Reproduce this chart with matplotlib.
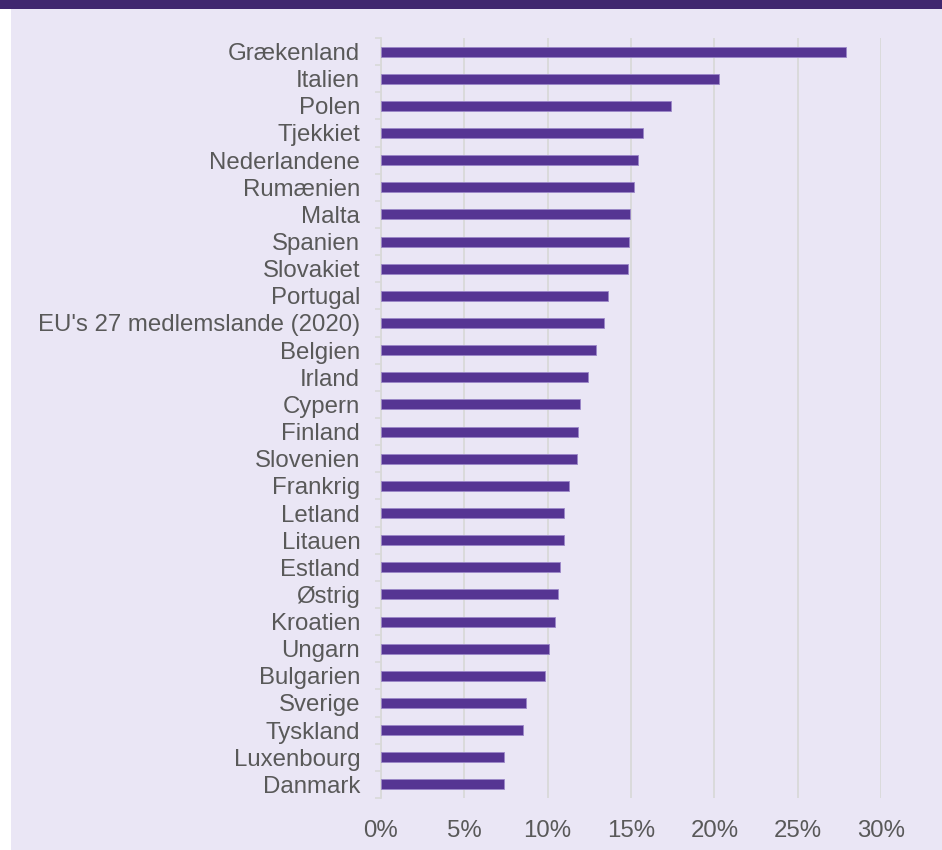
import matplotlib.pyplot as plt
from matplotlib.patches import Rectangle
from matplotlib.ticker import FixedLocator, PercentFormatter

plt.rcParams["font.family"] = ["Liberation Sans", "DejaVu Sans"]

countries = [
    "Grækenland", "Italien", "Polen", "Tjekkiet", "Nederlandene", "Rumænien",
    "Malta", "Spanien", "Slovakiet", "Portugal", "EU's 27 medlemslande (2020)",
    "Belgien", "Irland", "Cypern", "Finland", "Slovenien", "Frankrig",
    "Letland", "Litauen", "Estland", "Østrig", "Kroatien", "Ungarn",
    "Bulgarien", "Sverige", "Tyskland", "Luxenbourg", "Danmark",
]
shares = [
    27.9, 20.3, 17.4, 15.7, 15.4, 15.2,
    14.95, 14.9, 14.8, 13.6, 13.4,
    12.9, 12.4, 11.95, 11.8, 11.75, 11.3,
    10.95, 10.95, 10.75, 10.6, 10.45, 10.05,
    9.85, 8.7, 8.5, 7.4, 7.35,
]
xticks = [0, 5, 10, 15, 20, 25, 30]

BG = "#EAE6F5"
BAR = "#563593"
GRID = "#D9D9D9"
TXT = "#595959"

fig = plt.figure(figsize=(9.42, 8.5), dpi=100)
fig.patch.set_facecolor("white")
# lavender panel + dark band on top
fig.add_artist(Rectangle((11 / 942, 0), 1, 1, transform=fig.transFigure,
                         facecolor=BG, edgecolor="none", zorder=-2))
fig.add_artist(Rectangle((0, 1 - 9 / 850), 1, 9 / 850, transform=fig.transFigure,
                         facecolor="#40276F", edgecolor="none", zorder=-1))

ax = fig.add_axes([381 / 942, 1 - 798 / 850, 500 / 942, 760 / 850])
ax.set_facecolor("none")

y = list(range(len(countries)))
ax.barh(y, shares, height=0.37, color=BAR, edgecolor="#9B87C8",
        linewidth=0.6, zorder=3)

ax.set_ylim(len(countries) - 0.5, -0.5)
ax.set_xlim(0, 30)
ax.set_yticks(y)
ax.set_yticklabels(countries)
ax.yaxis.set_minor_locator(FixedLocator([i - 0.5 for i in range(len(countries) + 1)]))
ax.set_xticks(xticks)
ax.xaxis.set_major_formatter(PercentFormatter(decimals=0))

ax.tick_params(axis="y", which="major", length=0, pad=15, labelsize=17.3,
               labelcolor=TXT)
ax.tick_params(axis="y", which="minor", length=4.5, width=1.2, color=GRID)
ax.tick_params(axis="x", length=0, pad=16, labelsize=17.3, labelcolor=TXT)

ax.grid(axis="x", color=GRID, linewidth=1.3, zorder=0)
for s in ["top", "right", "bottom"]:
    ax.spines[s].set_visible(False)
ax.spines["left"].set_color(GRID)
ax.spines["left"].set_linewidth(1.3)

fig.savefig("out.png", dpi=100)
